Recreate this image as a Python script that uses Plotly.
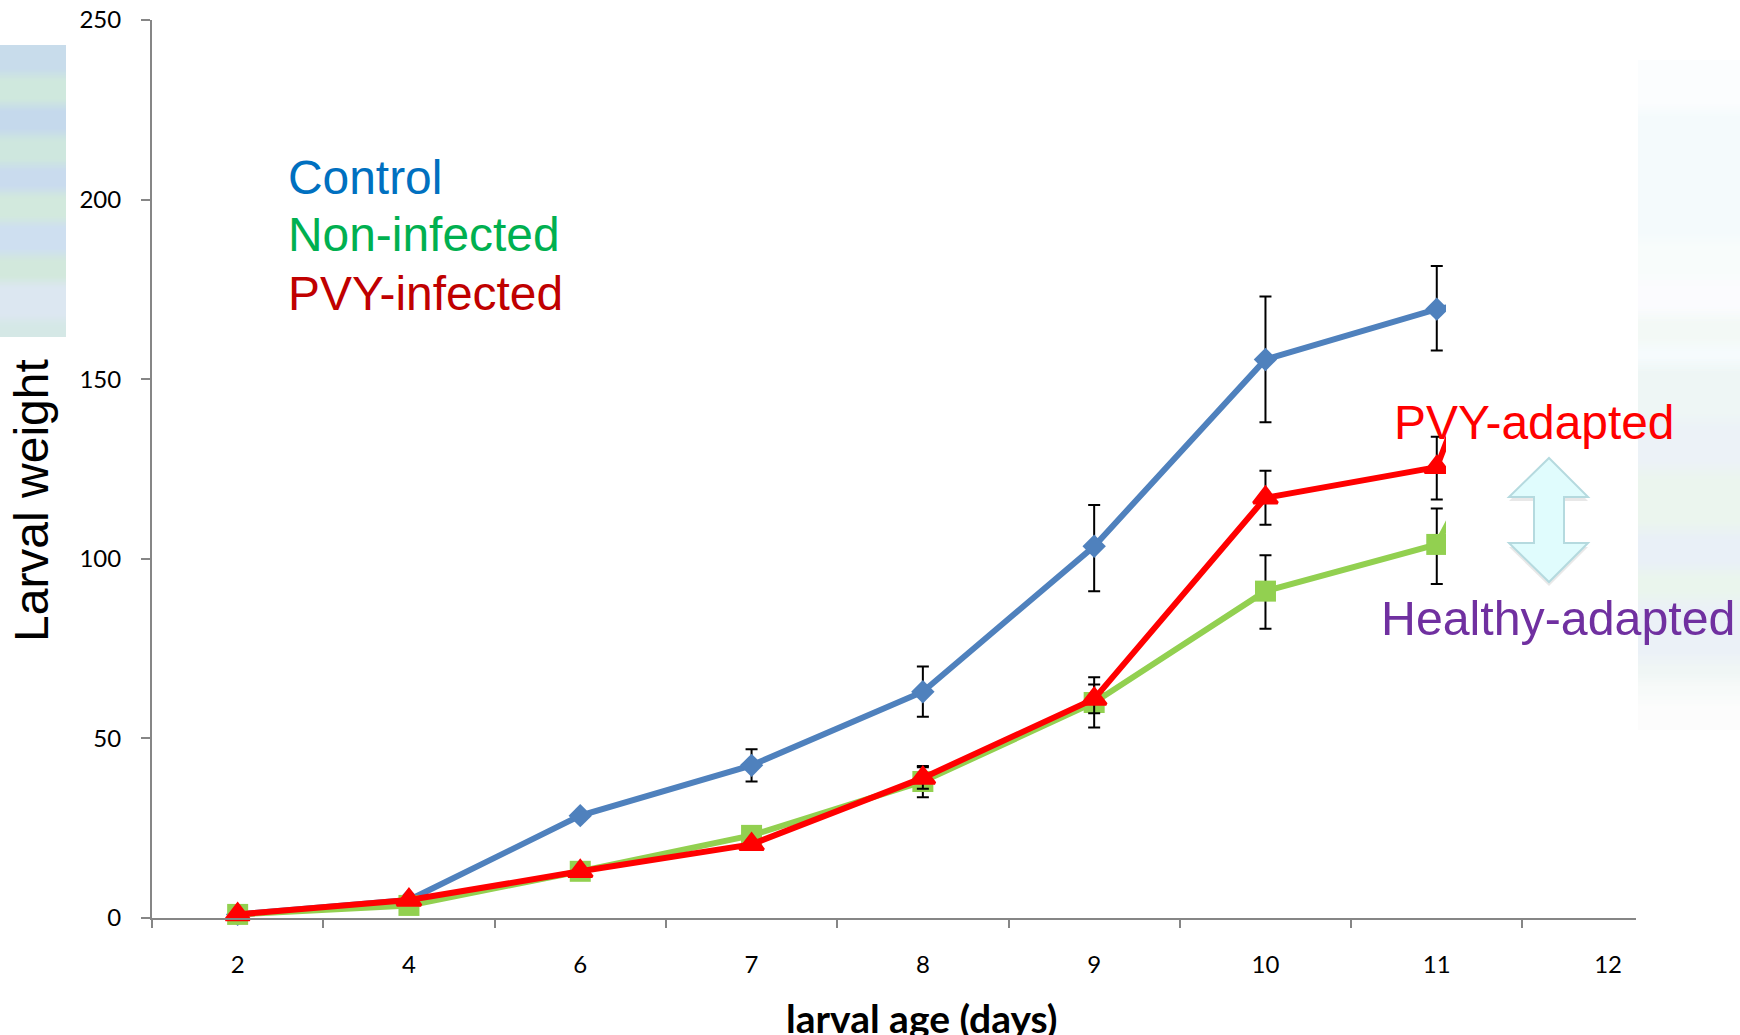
import plotly.graph_objects as go

W, H = 1740, 1035
L, R, T, B = 152, 1636, 20, 918

categories = ["2", "4", "6", "7", "8", "9", "10", "11", "12"]
control = [1, 5, 28.5, 42.5, 63, 103.5, 155.5, 169.5, 178]
control_up = [0, 0, 0, 4.5, 7, 11.5, 17.5, 12, 0]
control_dn = [0, 0, 0, 4.5, 7, 12.5, 17.5, 11.5, 0]
healthy = [1, 3.5, 13, 23, 38, 60, 91, 104, 195]
healthy_up = [0, 0, 0, 0, 4.3, 7, 10, 10, 0]
healthy_dn = [0, 0, 0, 0, 4.4, 7, 10.5, 11, 0]
pvy = [1, 5, 13, 20.5, 39, 61, 117, 125.5, 250]
pvy_up = [0, 0, 0, 0, 3, 4, 7.5, 8.5, 0]
pvy_dn = [0, 0, 0, 0, 3, 4, 7.5, 9, 0]

left_strip = [
    (45, 75, "#C8DCEB"), (75, 105, "#CFE8DD"), (105, 135, "#C5D9EC"), (135, 165, "#CEE7DE"),
    (165, 192, "#C9DBEE"), (192, 222, "#D2E9DD"), (222, 255, "#CEDFF0"), (255, 282, "#D2E8DC"),
    (282, 320, "#DCE7F1"), (320, 337, "#D5E8E6"),
]
right_strip = [
    (60, 110, "#FBFDFE"), (110, 240, "#F4FAFC"), (240, 280, "#F8FCFB"), (280, 315, "#FBFBFE"),
    (315, 345, "#F3F9F6"), (345, 365, "#F6FBFD"), (365, 420, "#EEF6F5"), (420, 470, "#ECF2F7"),
    (470, 530, "#EBF5EE"), (530, 570, "#E9F0F7"), (570, 600, "#EAF5ED"), (600, 660, "#EBF1F7"),
    (660, 680, "#F0F6F5"), (680, 700, "#F7FAF9"), (700, 730, "#FCFCFC"),
]


def px(x):
    return (x - L) / (R - L)


def py(y):
    return (B - y) / (B - T)


def band(x0, x1, y0, y1, color, layer="below"):
    return dict(type="rect", xref="paper", yref="paper", x0=px(x0), x1=px(x1), y0=py(y0), y1=py(y1),
                fillcolor=color, line_width=0, layer=layer)


def mix(c1, c2, t):
    a = [int(c1[i:i + 2], 16) for i in (1, 3, 5)]
    b = [int(c2[i:i + 2], 16) for i in (1, 3, 5)]
    return "#" + "".join(f"{round(p + (q - p) * t):02X}" for p, q in zip(a, b))


def soft_strip(x0, x1, rows, half=8, steps=8):
    out = [band(x0, x1, a, b, c) for a, b, c in rows]
    for (a0, b0, c0), (a1, b1, c1) in zip(rows, rows[1:]):
        h = 2 * half / steps
        for i in range(steps):
            out.append(band(x0, x1, b0 - half + i * h, b0 - half + (i + 1) * h + 0.5, mix(c0, c1, (i + 0.5) / steps)))
    return out


def arrow_path(dy=0):
    pts = [(1549, 458), (1588, 497), (1564, 497), (1564, 543), (1588, 543), (1549, 582),
           (1509, 543), (1534, 543), (1534, 497), (1509, 497)]
    return "M " + " L ".join(f"{px(a)} {py(b + dy)}" for a, b in pts) + " Z"


def trace(values, up, dn, name, color, symbol, size, width, edge=0):
    return go.Scatter(
        x=categories, y=values, name=name, mode="lines+markers", cliponaxis=False,
        line=dict(color=color, width=width),
        marker=dict(color=color, symbol=symbol, size=size, line=dict(color=color, width=edge)),
        error_y=dict(type="data", symmetric=False, array=up, arrayminus=dn,
                     color="#000000", thickness=2, width=6),
    )


fig = go.Figure([
    trace(control, control_up, control_dn, "Control", "#4F81BD", "diamond", 18, 6),
    trace(healthy, healthy_up, healthy_dn, "Non-infected", "#92D050", "square", 21, 6),
    trace(pvy, pvy_up, pvy_dn, "PVY-infected", "#FF0000", "triangle-up", 21, 6, 3),
])

shapes = soft_strip(0, 66, left_strip, half=6)
shapes += soft_strip(1638, 1740, right_strip, half=8)
shapes.append(band(1446, 1637, 0, 640, "#FFFFFF", "above"))
shapes.append(dict(type="path", xref="paper", yref="paper", path=arrow_path(4), fillcolor="rgba(90,90,90,0.14)",
                   line_width=0, layer="above"))
shapes.append(dict(type="path", xref="paper", yref="paper", path=arrow_path(), fillcolor="#E0FCFD",
                   line=dict(color="#B5DADF", width=2), layer="above"))


def label(text, x, y, size, color, family="Liberation Sans", anchor="left", **kw):
    return dict(text=text, xref="paper", yref="paper", x=px(x), y=py(y), xanchor=anchor, yanchor="middle",
                showarrow=False, font=dict(family=family, size=size, color=color), **kw)


annotations = [
    label("Control", 286, 177, 47.9, "#0070C0"),
    label("Non-infected", 286, 235, 47.9, "#00B050"),
    label("PVY-infected", 286, 293, 47.9, "#C00000"),
    label("PVY-adapted", 1392, 422, 47.9, "#FF0000"),
    label("Healthy-adapted", 1379, 618, 48.3, "#7030A0"),
    label("Larval weight", 31, 500, 48, "#000000", anchor="center", textangle=-90),
    label("<b>larval age (days)</b>", 922, 1018, 39, "#000000", family="Lato", anchor="center"),
]

fig.update_layout(
    width=W, height=H, margin=dict(l=L, r=W - R, t=T, b=H - B, pad=0), autosize=False,
    paper_bgcolor="#FFFFFF", plot_bgcolor="rgba(0,0,0,0)", showlegend=False,
    shapes=shapes, annotations=annotations,
    font=dict(family="Lato", size=24, color="#000000"),
    xaxis=dict(type="category", categoryorder="array", categoryarray=categories, range=[-0.5, 8.163],
               tickson="boundaries", ticks="outside", ticklen=8, tickwidth=2, tickcolor="#868686",
               showline=True, linecolor="#868686", linewidth=2, showgrid=False, zeroline=False,
               ticklabelstandoff=24, automargin=False, tickfont=dict(family="Lato", size=24)),
    yaxis=dict(range=[0, 250], tickvals=[0, 50, 100, 150, 200, 250], ticks="outside", ticklen=9, tickwidth=2,
               tickcolor="#868686", showline=True, linecolor="#868686", linewidth=2, showgrid=False,
               zeroline=False, ticklabelstandoff=15, automargin=False, tickfont=dict(family="Lato", size=24)),
)

fig.write_html("out.html", config={"displayModeBar": False},
               post_script="document.body.style.margin='0';document.body.style.overflow='hidden';")
